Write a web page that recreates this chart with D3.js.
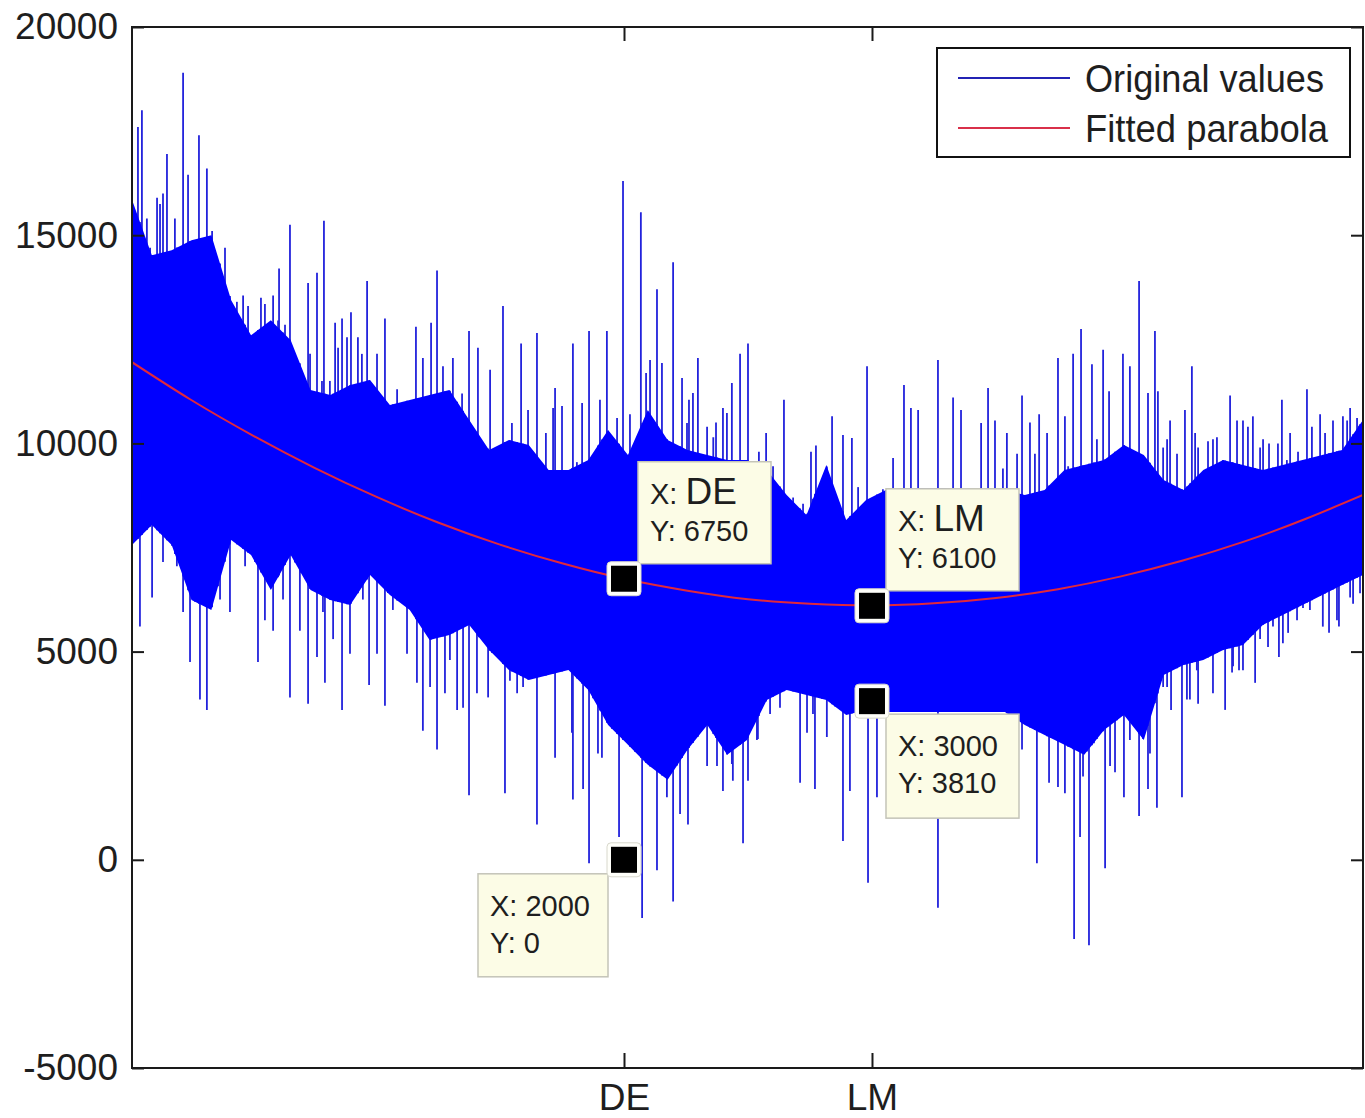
<!DOCTYPE html>
<html><head><meta charset="utf-8">
<script src="https://cdn.jsdelivr.net/npm/d3@7"></script>
<style>
body{margin:0;background:#fff}
text{font-family:"Liberation Sans",Arial,Helvetica,sans-serif;fill:#1e1e1e}
</style>
</head><body>
<svg id="c" width="1365" height="1118"></svg>
<script>
// ---------- data ----------
const yTicks = [-5000, 0, 5000, 10000, 15000, 20000];
const xTickValues = [2000, 3000];
const xTickLabels = ["DE", "LM"];

// dense band of the original values: sample positions, upper and lower envelope
const bandX = [16,96,176,256,336,416,496,576,656,736,816,896,976,1056,1136,1216,1296,1376,1456,1536,1616,1696,1776,1856,1936,2016,2096,2176,2256,2336,2416,2496,2576,2656,2736,2816,2896,2976,3056,3136,3216,3296,3376,3456,3536,3616,3696,3776,3856,3936,4016,4096,4176,4256,4336,4416,4496,4576,4656,4736,4816,4896,4980];
const bandHi = [15850,14520,14640,14880,15000,13440,12600,12960,12480,11280,11160,11400,11520,10920,11040,11160,11280,10560,9840,10080,9960,9360,9360,9600,10320,9720,10800,10080,9840,9720,9600,9600,9360,8760,8280,9480,8160,8640,8880,8930,8930,8930,8880,8880,8880,8760,8880,9360,9480,9600,9960,9720,9120,8880,9360,9600,9480,9360,9480,9600,9720,9840,10560];
const bandLo = [7560,8040,7560,6240,6000,7680,7320,6480,7320,6480,6240,6120,6840,6360,6000,5280,5400,5640,5040,4560,4320,4440,4560,4080,3240,2760,2280,1920,2640,3240,2520,2880,3840,4080,3960,3840,3480,3600,3550,3550,3550,3550,3550,3550,3550,3240,3000,2760,2520,3120,3480,2880,4440,4680,4800,5040,5160,5640,5880,6120,6360,6600,6840];

// tall upward peaks of the original values
const upX = [40,56,76,117,141,157,189,222,242,286,318,339,391,439,464,536,552,585,609,653,697,726,762,790,835,863,899,927,964,1036,1161,1222,1246,1310,1375,1411,1460,1512,1585,1649,1685,1722,1750,1794,1831,1859,1903,1931,1972,1996,2024,2068,2089,2105,2133,2153,2198,2234,2262,2278,2298,2335,2371,2399,2435,2468,2500,2544,2573,2645,2754,2774,2839,2883,2919,2980,3085,3129,3157,3186,3266,3327,3359,3440,3468,3496,3528,3585,3605,3637,3674,3706,3750,3778,3811,3843,3887,3907,3932,3956,4012,4040,4077,4113,4141,4153,4190,4202,4262,4290,4315,4355,4391,4444,4472,4496,4536,4577,4601,4653,4686,4718,4754,4807,4859,4899,4928,4956,4980];
const upY = [17600,18000,15400,15900,16000,16950,15400,18900,16450,17400,16600,15100,14700,13400,13550,13500,13350,13550,14200,15250,11800,13850,14100,15350,12900,13000,13150,12550,13900,13000,12800,12900,14150,12050,12700,12300,11770,13300,12400,12650,10250,11330,10900,12400,10970,12700,11050,12700,10610,16300,10700,15550,11690,12000,13700,11930,14350,11570,11050,11210,12050,10400,10500,10850,11450,12150,12400,9800,10250,11050,9800,9950,10650,10200,10130,11850,9650,11400,10850,10800,12000,11100,10800,10490,11330,10550,9400,9750,11150,10500,10700,10250,12050,10650,12150,12750,11900,10100,12250,11250,12150,11850,13900,11210,12700,11250,10100,10550,10800,11850,9900,10050,10150,11150,10550,10550,10650,10100,10000,11050,10250,9800,11300,10700,10550,10650,10850,10610,11570];

// shorter upward peaks along the band's upper edge
const minorUpX = [89,129,177,270,363,411,484,512,605,633,673,734,782,814,847,883,943,1004,1048,1085,1125,1189,1270,1347,1415,1468,1548,1613,1714,1774,1810,1875,1952,2044,2173,2214,2254,2360,2415,2480,2601,2682,2722,2798,2851,2944,3004,3044,3544,3657,3718,3791,3867,3988,4093,4174,4230,4303,4375,4415,4516,4565,4637,4673,4774,4827,4916];
const minorUpY = [14700,15750,13750,12700,13400,13200,13300,11200,12950,12850,10730,12150,11500,11500,12300,12550,12150,12150,10150,11300,10850,12050,11850,11200,10000,9500,10490,10800,10850,9100,9550,9450,9200,9750,10000,9750,10490,10150,10730,9600,9450,8700,8550,8160,8800,8950,8550,8900,10250,9750,8800,9450,9290,9600,9650,9900,9750,10250,10100,9600,10400,9900,10000,9600,10400,10250,10550];

// tall downward peaks of the original values
const downX = [48,97,141,222,250,290,318,411,524,585,653,726,762,794,863,972,1036,1165,1189,1246,1278,1327,1375,1452,1520,1569,1649,1722,1794,1835,1859,1911,1980,2073,2133,2198,2258,2335,2399,2435,2480,2500,2540,2710,2738,2770,2883,2911,2984,3020,3266,3605,3665,3714,3750,3778,3815,3839,3875,3895,3940,3980,4016,4077,4113,4149,4190,4206,4250,4282,4315,4424,4452,4480,4545,4597,4641,4678,4738,4843,4883,4940,4964];
const downY = [5600,6300,7150,5950,4750,3850,3600,5950,4750,5500,3900,3750,4870,4250,3600,4200,3700,4250,3100,2650,4000,3600,1550,3900,1600,4000,850,2450,1450,1700,-80,2450,550,-1400,-250,-1000,850,2250,1650,2300,400,1900,2900,1850,3050,1700,450,1650,-550,1500,-1150,2650,-80,1850,1750,1600,-1900,550,-2050,2800,-200,2100,1500,1050,1700,1250,4150,3600,1500,3850,3750,3600,4500,4550,4250,5110,4870,5450,6050,5450,5600,6150,6900];

// shorter downward peaks along the band's lower edge
const minorDownX = [197,371,472,552,625,693,786,827,895,947,1004,1068,1125,1218,1298,1351,1407,1540,1593,1790,1895,2173,2226,2375,2439,2536,2589,2629,2762,2818,3851,3960,4040,4121,4174,4270,4310,4375,4456,4496,4565,4617,4657,4714,4766,4818,4875,4928,4968];
const minorDownY = [7050,6250,7050,5750,6250,5500,5950,5300,4950,6250,4950,6000,4950,4150,4800,3650,4000,4300,4150,3050,2550,1500,1100,2250,1900,2880,3500,3650,3500,2950,2000,2250,2880,2550,4150,3850,4550,4000,4650,4550,5300,5600,5200,5750,6000,5600,5750,6300,6400];

// fitted parabola
const fitX = [16,250,500,750,1000,1250,1500,1750,2000,2250,2500,2750,3000,3250,3500,3750,4000,4250,4500,4750,4980];
const fitY = [11950,11060,10200,9420,8720,8100,7570,7120,6750,6470,6260,6150,6110,6160,6290,6500,6800,7180,7640,8190,8760];

// data tips
const tipX = [2000, 3000, 3000, 2000];
const tipY = [6750, 6100, 3810, 0];
const tipXText = ["DE", "LM", "3000", "2000"];
const tipYText = ["6750", "6100", "3810", "0"];
const tipPlace = ["ne", "ne", "se", "sw"];

const legendNames = ["Original values", "Fitted parabola"];

// ---------- drawing ----------
const svg = d3.select("#c");
const L = 132, R = 1363, T = 27, B = 1068;
const x = d3.scaleLinear().domain([16, 4980]).range([L, R]);
const y = d3.scaleLinear().domain([-5000, 20000]).range([B, T]);

svg.append("defs").append("clipPath").attr("id", "clip")
  .append("rect").attr("x", L).attr("y", T).attr("width", R - L).attr("height", B - T);

const plot = svg.append("g").attr("clip-path", "url(#clip)");

const hiAt = d3.scaleLinear().domain(bandX).range(bandHi);
const loAt = d3.scaleLinear().domain(bandX).range(bandLo);

const SPIKE = "#2222dc";
function spikes(xs, ys, up) {
  plot.append("g").selectAll("line").data(d3.zip(xs, ys)).join("line")
    .attr("x1", d => x(d[0])).attr("x2", d => x(d[0]))
    .attr("y1", d => y(d[1]))
    .attr("y2", d => y(up ? loAt(d[0]) : hiAt(d[0])))
    .attr("stroke", SPIKE).attr("stroke-width", 1.8);
}
spikes(upX, upY, true);
spikes(minorUpX, minorUpY, true);
spikes(downX, downY, false);
spikes(minorDownX, minorDownY, false);

const band = bandX.map((v, i) => ({x: v, hi: bandHi[i], lo: bandLo[i]}));
plot.append("path").datum(band)
  .attr("d", d3.area().x(d => x(d.x)).y0(d => y(d.lo)).y1(d => y(d.hi)))
  .attr("fill", "#0000ff");

plot.append("path").datum(d3.zip(fitX, fitY))
  .attr("d", d3.line().x(d => x(d[0])).y(d => y(d[1])).curve(d3.curveNatural))
  .attr("fill", "none").attr("stroke", "#e0283c").attr("stroke-width", 2);

// axes
const axStroke = "#1a1a1a";
const gl = svg.append("g").attr("transform", `translate(${L},0)`)
  .call(d3.axisLeft(y).tickValues(yTicks).tickSizeInner(-12).tickSizeOuter(0).tickPadding(14).tickFormat(d => String(d)));
const gr = svg.append("g").attr("transform", `translate(${R},0)`)
  .call(d3.axisRight(y).tickValues(yTicks).tickSizeInner(-12).tickSizeOuter(0).tickFormat(""));
const gb = svg.append("g").attr("transform", `translate(0,${B})`)
  .call(d3.axisBottom(x).tickValues(xTickValues).tickSizeInner(-15).tickSizeOuter(0).tickPadding(16)
    .tickFormat((d, i) => xTickLabels[i]));
const gt = svg.append("g").attr("transform", `translate(0,${T})`)
  .call(d3.axisTop(x).tickValues(xTickValues).tickSizeInner(-14).tickSizeOuter(0).tickFormat(""));
[gl, gr, gb, gt].forEach(g => {
  g.select(".domain").remove();
  g.selectAll(".tick line").attr("stroke", axStroke).attr("stroke-width", 2);
  g.selectAll("text").attr("font-size", 37).attr("fill", "#1e1e1e")
    .attr("font-family", "'Liberation Sans', Arial, sans-serif");
});
svg.append("rect").attr("x", L).attr("y", T).attr("width", R - L).attr("height", B - T)
  .attr("fill", "none").attr("stroke", axStroke).attr("stroke-width", 2);

// data tips
const tips = svg.append("g");
tipX.forEach((tx, i) => {
  const mx = x(tx), my = y(tipY[i]);
  const p = tipPlace[i];
  let bx, by, bw = 133, bh = 102;
  if (p === "ne") { bx = mx + 14; by = my - 117; }
  else if (p === "se") { bx = mx + 14; by = my + 13; bh = 104; }
  else { bx = mx - 146; by = my + 14; bw = 130; bh = 103; }
  tips.append("rect").attr("x", bx).attr("y", by).attr("width", bw).attr("height", bh)
    .attr("fill", "#fcfce6").attr("stroke", "#c4c4b8").attr("stroke-width", 1.5);
  const t1 = tips.append("text").attr("x", bx + 12).attr("y", by + 42);
  t1.append("tspan").attr("font-size", 29).text("X: ");
  const big = isNaN(+tipXText[i]);
  t1.append("tspan").attr("font-size", big ? 37 : 29).text(tipXText[i]);
  tips.append("text").attr("x", bx + 12).attr("y", by + 79).attr("font-size", 29)
    .text("Y: " + tipYText[i]);
  // marker
  tips.append("rect").attr("x", mx - 17).attr("y", my - 17).attr("width", 34).attr("height", 34)
    .attr("rx", 4).attr("fill", "#fffffa").attr("stroke", "#d8d8cc").attr("stroke-width", 1);
  tips.append("rect").attr("x", mx - 13).attr("y", my - 13).attr("width", 26).attr("height", 26)
    .attr("fill", "#000");
});

// legend
const lg = svg.append("g");
lg.append("rect").attr("x", 937).attr("y", 48).attr("width", 413).attr("height", 109)
  .attr("fill", "#fff").attr("stroke", "#111").attr("stroke-width", 2);
const legColors = ["#2323b4", "#d9304a"];
const legY = [78, 128];
const legW = [239, 243];
legendNames.forEach((n, i) => {
  lg.append("line").attr("x1", 958).attr("x2", 1070).attr("y1", legY[i]).attr("y2", legY[i])
    .attr("stroke", legColors[i]).attr("stroke-width", 2);
  lg.append("text").attr("x", 1085).attr("y", legY[i] + 14).attr("font-size", 39)
    .attr("textLength", legW[i]).attr("lengthAdjust", "spacingAndGlyphs").text(n);
});
</script>
</body></html>
